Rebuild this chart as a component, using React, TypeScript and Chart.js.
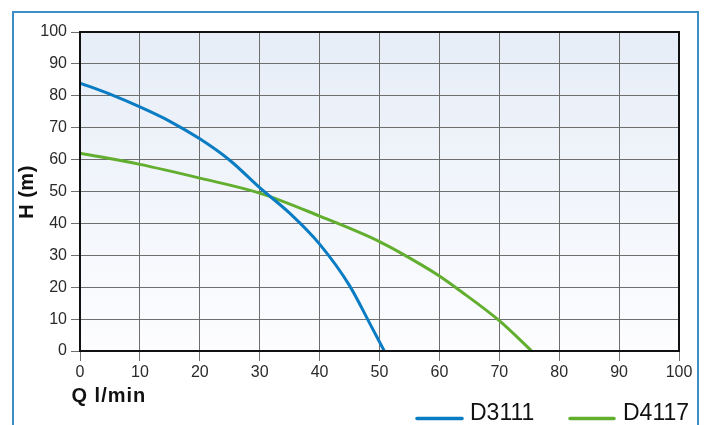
import React, { useEffect, useRef } from "react";
import { Chart, registerables } from "chart.js";

Chart.register(...registerables);

// ---- Data ----
const seriesNames = ["D3111", "D4117"];
const seriesColors = ["#0a7cc3", "#62ae2f"];

const flowD3111 = [0, 5, 10, 15, 20, 25, 30, 35, 40, 45, 48.5, 50.8];
const headD3111 = [84, 80.5, 76.5, 72, 66.5, 59.8, 51.2, 43.2, 33.5, 20.5, 8.2, 0];

const flowD4117 = [0, 10, 20, 30, 40, 50, 57, 60, 63, 70, 75.4];
const headD4117 = [62, 58.5, 54.2, 49.5, 42.3, 34.3, 27, 23.5, 19.5, 9.5, 0];

const xTickValues = [0, 10, 20, 30, 40, 50, 60, 70, 80, 90, 100];
const yTickValues = [0, 10, 20, 30, 40, 50, 60, 70, 80, 90, 100];

const xAxisTitle = "Q l/min";
const yAxisTitle = "H (m)";

const FONT = "'Liberation Sans', Arial, Helvetica, sans-serif";

const decorPlugin = {
  id: "decor",
  beforeDraw(chart: any) {
    const { ctx, chartArea } = chart;
    const { left, top, right, bottom } = chartArea;
    const g = ctx.createLinearGradient(0, top, 0, bottom);
    g.addColorStop(0, "#e6edf7");
    g.addColorStop(1, "#fdfdff");
    ctx.save();
    ctx.fillStyle = g;
    ctx.fillRect(left, top, right - left, bottom - top);
    ctx.restore();
  },
  afterDraw(chart: any) {
    const { ctx, chartArea } = chart;
    const { left, top, right, bottom } = chartArea;
    ctx.save();
    // plot border
    ctx.strokeStyle = "#111111";
    ctx.lineWidth = 2;
    ctx.strokeRect(left, top, right - left, bottom - top);

    // outer frame
    ctx.strokeStyle = "#3d8ec6";
    ctx.lineWidth = 2;
    ctx.beginPath();
    ctx.moveTo(13, 425);
    ctx.lineTo(13, 12);
    ctx.lineTo(698, 12);
    ctx.lineTo(698, 425);
    ctx.stroke();

    // axis titles
    ctx.fillStyle = "#111111";
    ctx.font = `bold 20px ${FONT}`;
    ctx.textBaseline = "middle";
    ctx.textAlign = "center";
    ctx.save();
    ctx.translate(27, 192);
    ctx.rotate(-Math.PI / 2);
    (ctx as any).letterSpacing = "0.5px";
    ctx.fillText(yAxisTitle, 0, 0);
    ctx.restore();

    ctx.save();
    ctx.textAlign = "left";
    ctx.textBaseline = "alphabetic";
    (ctx as any).letterSpacing = "1px";
    ctx.fillText(xAxisTitle, 71.5, 401.5);
    ctx.restore();

    // legend
    const entries = [
      { x0: 417, x1: 462, tx: 470 },
      { x0: 570, x1: 614, tx: 623 },
    ];
    chart.data.datasets.forEach((ds: any, i: number) => {
      const e = entries[i];
      ctx.strokeStyle = ds.borderColor;
      ctx.lineWidth = 3.5;
      ctx.lineCap = "round";
      ctx.beginPath();
      ctx.moveTo(e.x0, 418.5);
      ctx.lineTo(e.x1, 418.5);
      ctx.stroke();
      ctx.fillStyle = "#111111";
      ctx.font = `23px ${FONT}`;
      ctx.textAlign = "left";
      ctx.textBaseline = "alphabetic";
      ctx.fillText(ds.label, e.tx, 420);
    });
    ctx.restore();
  },
};

export default function App() {
  const ref = useRef<HTMLCanvasElement | null>(null);

  useEffect(() => {
    if (!ref.current) return;
    const toPoints = (xs: number[], ys: number[]) =>
      xs.map((x, i) => ({ x, y: ys[i] }));

    const chart = new Chart(ref.current, {
      type: "line",
      data: {
        datasets: [
          {
            label: seriesNames[0],
            data: toPoints(flowD3111, headD3111),
            borderColor: seriesColors[0],
            backgroundColor: seriesColors[0],
            borderWidth: 3,
            pointRadius: 0,
            cubicInterpolationMode: "monotone",
          },
          {
            label: seriesNames[1],
            data: toPoints(flowD4117, headD4117),
            borderColor: seriesColors[1],
            backgroundColor: seriesColors[1],
            borderWidth: 3,
            pointRadius: 0,
            cubicInterpolationMode: "monotone",
          },
        ],
      },
      options: {
        animation: false,
        responsive: false,
        maintainAspectRatio: false,
        devicePixelRatio: 1,
        layout: { padding: { left: 0, top: 32, right: 27, bottom: 0 } },
        plugins: {
          legend: { display: false },
          tooltip: { enabled: false },
        },
        scales: {
          x: {
            type: "linear",
            min: 0,
            max: 100,
            afterBuildTicks: (scale: any) => {
              scale.ticks = xTickValues.map((v) => ({ value: v }));
            },
            afterFit: (scale: any) => {
              scale.height = 74;
            },
            grid: {
              color: "#6e6e6e",
              lineWidth: 1,
              drawTicks: true,
              tickLength: 10,
              tickColor: "#6e6e6e",
            },
            border: { display: true, color: "#111111", width: 2 },
            ticks: {
              color: "#2a2a2a",
              font: { family: FONT, size: 16 },
              padding: 2,
              maxRotation: 0,
              autoSkip: false,
            },
          },
          y: {
            type: "linear",
            min: 0,
            max: 100,
            afterBuildTicks: (scale: any) => {
              scale.ticks = yTickValues.map((v) => ({ value: v }));
            },
            afterFit: (scale: any) => {
              scale.width = 80;
            },
            grid: {
              color: "#6e6e6e",
              lineWidth: 1,
              drawTicks: true,
              tickLength: 9,
              tickColor: "#6e6e6e",
            },
            border: { display: true, color: "#111111", width: 2 },
            ticks: {
              color: "#2a2a2a",
              font: { family: FONT, size: 16 },
              padding: 4,
              autoSkip: false,
            },
          },
        },
      },
      plugins: [decorPlugin],
    } as any);

    return () => chart.destroy();
  }, []);

  return (
    <div
      style={{
        position: "fixed",
        left: 0,
        top: 0,
        width: 706,
        height: 425,
        background: "#ffffff",
      }}
    >
      <canvas ref={ref} width={706} height={425} style={{ display: "block" }} />
    </div>
  );
}
